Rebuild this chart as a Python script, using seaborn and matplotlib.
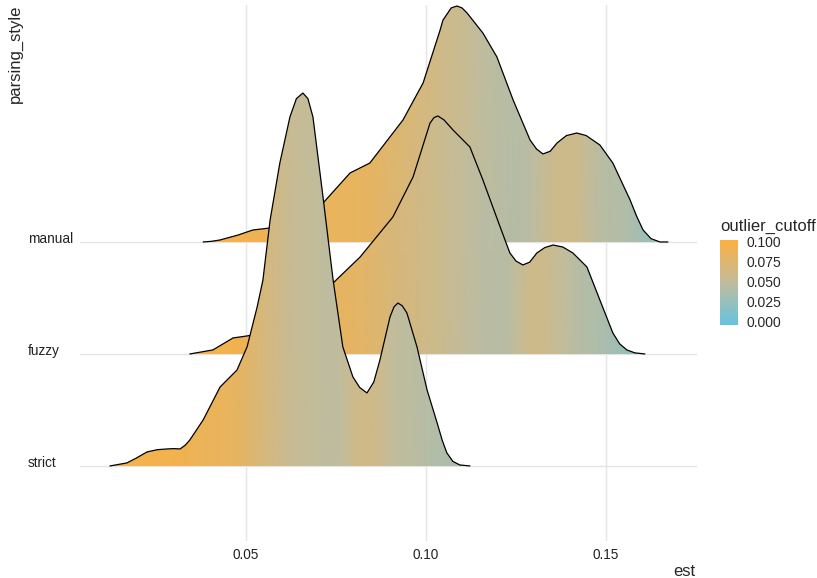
import matplotlib
matplotlib.use("Agg")
import matplotlib.pyplot as plt
import seaborn as sns
import numpy as np
import pandas as pd
from matplotlib.colors import LinearSegmentedColormap, Normalize
from matplotlib.cm import ScalarMappable
from matplotlib.patches import Polygon
from matplotlib.ticker import FormatStrFormatter

# ridge categories, bottom to top
categories = ["strict", "fuzzy", "manual"]

# density outlines: est, ridge height (in row units), fill value
strict_est = [0.0122, 0.0169, 0.0195, 0.0225, 0.0253, 0.0281, 0.0300, 0.0317, 0.0331, 0.0344,
              0.0381, 0.0428, 0.0475, 0.0503, 0.0531, 0.0547, 0.0567, 0.0594, 0.0622, 0.0640,
              0.0658, 0.0672, 0.0686, 0.0714, 0.0742, 0.0769, 0.0797, 0.0816, 0.0836, 0.0855,
              0.0872, 0.0900, 0.0911, 0.0922, 0.0934, 0.0947, 0.0975, 0.1003, 0.1031, 0.1045,
              0.1058, 0.1075, 0.1094, 0.1122]
strict_height = [0.0, 0.027, 0.07, 0.125, 0.145, 0.152, 0.155, 0.152, 0.185, 0.232,
                 0.411, 0.705, 0.857, 1.063, 1.42, 1.66, 2.196, 2.705, 3.116, 3.28,
                 3.33, 3.28, 3.116, 2.40, 1.66, 1.063, 0.795, 0.70, 0.652, 0.75,
                 0.946, 1.33, 1.42, 1.455, 1.43, 1.366, 1.063, 0.679, 0.384, 0.23,
                 0.116, 0.04, 0.009, 0.0]
strict_cutoff = [0.095, 0.095, 0.095, 0.095, 0.095, 0.094, 0.094, 0.093, 0.092, 0.090,
                 0.088, 0.086, 0.083, 0.078, 0.072, 0.068, 0.065, 0.060, 0.055, 0.053,
                 0.052, 0.051, 0.050, 0.048, 0.046, 0.050, 0.058, 0.060, 0.062, 0.060,
                 0.058, 0.050, 0.049, 0.048, 0.048, 0.047, 0.045, 0.042, 0.040, 0.039,
                 0.038, 0.037, 0.036, 0.035]

fuzzy_est = [0.0344, 0.0408, 0.0464, 0.0503, 0.0567, 0.0650, 0.0742, 0.0817, 0.0908, 0.0964,
             0.1011, 0.1022, 0.1033, 0.1050, 0.1075, 0.1122, 0.1158, 0.1206, 0.1233, 0.1250,
             0.1269, 0.1288, 0.1308, 0.1330, 0.1353, 0.1380, 0.1408, 0.1447, 0.1483, 0.1519,
             0.1538, 0.1558, 0.1580, 0.1608]
fuzzy_height = [0.0, 0.036, 0.143, 0.161, 0.196, 0.375, 0.634, 0.866, 1.223, 1.58,
                2.06, 2.11, 2.125, 2.09, 2.0, 1.848, 1.554, 1.134, 0.902, 0.83,
                0.795, 0.82, 0.902, 0.95, 0.973, 0.955, 0.902, 0.777, 0.482, 0.188,
                0.09, 0.036, 0.01, 0.0]
fuzzy_cutoff = [0.095, 0.095, 0.094, 0.090, 0.088, 0.087, 0.085, 0.080, 0.070, 0.065,
                0.060, 0.059, 0.058, 0.056, 0.053, 0.048, 0.045, 0.043, 0.045, 0.050,
                0.055, 0.058, 0.060, 0.058, 0.055, 0.050, 0.045, 0.040, 0.038, 0.032,
                0.028, 0.025, 0.021, 0.018]

manual_est = [0.0381, 0.0405, 0.0428, 0.0478, 0.0519, 0.0567, 0.0622, 0.0678, 0.0714, 0.0789,
              0.0844, 0.0936, 0.0992, 0.1039, 0.1047, 0.1070, 0.1086, 0.1100, 0.1114, 0.1158,
              0.1197, 0.1242, 0.1289, 0.1307, 0.1325, 0.1345, 0.1364, 0.1390, 0.1419, 0.1445,
              0.1483, 0.1519, 0.1567, 0.1585, 0.1603, 0.1625, 0.1650, 0.1672]
manual_height = [0.0, 0.006, 0.018, 0.062, 0.107, 0.125, 0.179, 0.268, 0.348, 0.616,
                 0.705, 1.089, 1.42, 1.89, 1.98, 2.09, 2.107, 2.09, 2.045, 1.866,
                 1.652, 1.268, 0.911, 0.83, 0.786, 0.81, 0.884, 0.95, 0.973, 0.95,
                 0.866, 0.705, 0.375, 0.23, 0.107, 0.03, 0.0, 0.0]
manual_cutoff = [0.095, 0.095, 0.095, 0.095, 0.092, 0.090, 0.088, 0.087, 0.086, 0.085,
                 0.083, 0.072, 0.066, 0.062, 0.060, 0.058, 0.057, 0.055, 0.053, 0.048,
                 0.045, 0.042, 0.045, 0.048, 0.052, 0.056, 0.060, 0.060, 0.058, 0.052,
                 0.045, 0.042, 0.038, 0.034, 0.030, 0.026, 0.022, 0.020]

legend_breaks = [0.0, 0.025, 0.05, 0.075, 0.1]
x_breaks = [0.05, 0.10, 0.15]

ridges = {
    "manual": (manual_est, manual_height, manual_cutoff),
    "fuzzy": (fuzzy_est, fuzzy_height, fuzzy_cutoff),
    "strict": (strict_est, strict_height, strict_cutoff),
}

sns.set_theme(style="white")
plt.rcParams["font.family"] = ["Liberation Sans", "DejaVu Sans"]

cmap = LinearSegmentedColormap.from_list("cutoff", ["#66C2E0", "#C2BC9C", "#FBB040"])
norm = Normalize(vmin=-0.004, vmax=0.1025)

W, H = 817, 578
fig = plt.figure(figsize=(W / 100, H / 100), dpi=100)
ax = fig.add_axes([80 / W, 1 - 541 / H, (697 - 80) / W, (541 - 5) / H])

for spine in ax.spines.values():
    spine.set_visible(False)

ax.set_xlim(0.00389, 0.17528)
ax.set_ylim(0.33, 5.116)
ax.set_xticks(x_breaks)
ax.set_xticklabels(["0.05", "0.10", "0.15"])
ax.set_yticks([1, 2, 3])
ax.set_yticklabels([])
ax.grid(True, color="#E5E5E5", lw=1.0)
ax.set_axisbelow(True)
ax.tick_params(length=0, labelsize=9.8, labelcolor="#222222", pad=5)

z = 2
for name in ["manual", "fuzzy", "strict"]:
    est, height, cutoff = ridges[name]
    row = categories.index(name) + 1
    est = np.asarray(est)
    top = row + np.asarray(height)
    n = len(est)

    poly = Polygon(np.column_stack([est, top]), closed=True, transform=ax.transData,
                   facecolor="none", edgecolor="none")
    X = np.vstack([est, est])
    Y = np.vstack([np.full(n, row - 0.01), np.full(n, row + 3.5)])
    C = np.vstack([cutoff, cutoff])
    mesh = ax.pcolormesh(X, Y, C, shading="gouraud", cmap=cmap, norm=norm, zorder=z)
    mesh.set_clip_path(poly)

    df = pd.DataFrame({"est": est, "y": top})
    sns.lineplot(data=df, x="est", y="y", sort=False, estimator=None, color="black",
                 lw=0.9, ax=ax, zorder=z + 0.5, solid_joinstyle="round")
    z += 1

for i, name in enumerate(categories):
    ax.text((28 - 80) / (697 - 80), i + 1 + 3 / 112, name, transform=ax.get_yaxis_transform(),
            ha="left", va="center", fontsize=9.8, color="#222222")

ax.set_xlabel("")
ax.set_ylabel("")
fig.text(684 / W, 1 - 571 / H, "est", ha="center", va="center", fontsize=12)
fig.text(15 / W, 1 - 5 / H, "parsing_style", rotation=90, ha="center", va="top", fontsize=12)

# colour legend
cax = fig.add_axes([720 / W, 1 - 325 / H, 18 / W, 85 / H])
cb = fig.colorbar(ScalarMappable(norm=norm, cmap=cmap), cax=cax, ticks=legend_breaks)
cb.outline.set_visible(False)
cax.yaxis.set_major_formatter(FormatStrFormatter("%.3f"))
cax.tick_params(left=True, right=True, labelleft=False, labelright=True, direction="in",
                length=3, width=0.8, color="white", labelsize=10, pad=6)
fig.text(720 / W, 1 - 226 / H, "outlier_cutoff", ha="left", va="center", fontsize=12)

fig.savefig("out.png", dpi=100)
